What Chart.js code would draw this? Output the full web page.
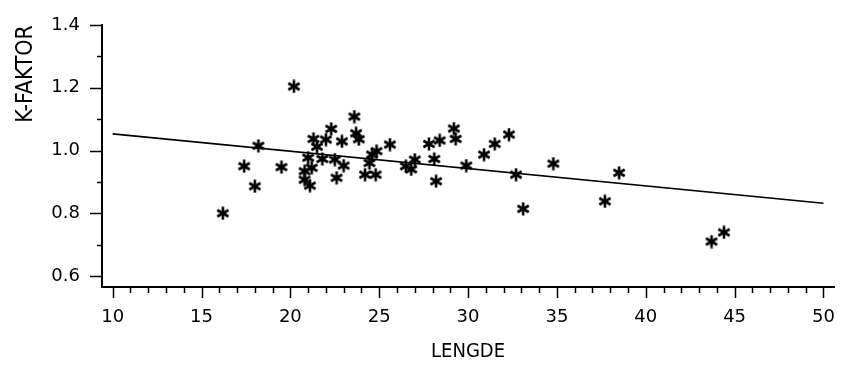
<!DOCTYPE html>
<html>
<head>
<meta charset="utf-8">
<script src="https://cdn.jsdelivr.net/npm/chart.js@4"></script>
<style>
  html, body { margin: 0; padding: 0; background: #fff; }
</style>
</head>
<body>
<canvas id="myChart" width="844" height="367"></canvas>
<script>
// measured points
const lengde = [16.2, 17.4, 18.0, 18.2, 19.5, 20.2, 20.8, 20.8, 21.0, 21.1,
  21.2, 21.3, 21.5, 21.8, 22.0, 22.3, 22.5, 22.6, 22.9, 23.0,
  23.6, 23.7, 23.85, 24.2, 24.45, 24.6, 24.8, 24.85, 25.6, 26.5,
  26.8, 27.0, 27.8, 28.1, 28.2, 28.4, 29.2, 29.3, 29.9, 30.9,
  31.5, 32.3, 32.7, 33.1, 34.8, 37.7, 38.5, 43.7, 44.4];
const kFaktor = [0.80, 0.95, 0.886, 1.015, 0.947, 1.204, 0.934, 0.907, 0.977, 0.888,
  0.945, 1.037, 1.012, 0.973, 1.035, 1.069, 0.971, 0.913, 1.029, 0.952,
  1.108, 1.055, 1.036, 0.923, 0.96, 0.987, 0.923, 0.998, 1.019, 0.95,
  0.94, 0.971, 1.021, 0.973, 0.902, 1.032, 1.07, 1.037, 0.952, 0.987,
  1.021, 1.051, 0.923, 0.814, 0.958, 0.838, 0.929, 0.71, 0.739];

// fitted line
const lineX = [10, 50];
const lineY = [1.053, 0.832];

const xTickLabels = [10, 15, 20, 25, 30, 35, 40, 45, 50];
const yTickLabels = [0.6, 0.8, 1.0, 1.2, 1.4];
const xMinor = [];
for (let v = 10; v <= 50; v++) xMinor.push(v);
const yMinor = [0.6, 0.7, 0.8, 0.9, 1.0, 1.1, 1.2, 1.3, 1.4];

function makeAsterisk(size, lw) {
  const c = document.createElement('canvas');
  c.width = size; c.height = size;
  const g = c.getContext('2d');
  g.strokeStyle = '#000';
  g.lineWidth = lw;
  const r = size / 2 - 0.5;
  g.translate(size / 2, size / 2);
  [90, 30, 150].forEach(a => {
    const t = a * Math.PI / 180;
    g.beginPath();
    g.moveTo(-r * Math.cos(t), -r * Math.sin(t));
    g.lineTo(r * Math.cos(t), r * Math.sin(t));
    g.stroke();
  });
  return c;
}

// tick marks: long on labelled values, short in between
const tickMarks = {
  id: 'tickMarks',
  afterDraw(chart) {
    const { ctx, chartArea, scales: { x, y } } = chart;
    ctx.save();
    ctx.strokeStyle = '#000';
    ctx.lineWidth = 1.5;
    xMinor.forEach(v => {
      const px = Math.round(x.getPixelForValue(v)) + 0.5;
      const len = xTickLabels.includes(v) ? 11 : 6;
      ctx.beginPath();
      ctx.moveTo(px, chartArea.bottom);
      ctx.lineTo(px, chartArea.bottom + len);
      ctx.stroke();
    });
    yMinor.forEach(v => {
      const py = Math.round(y.getPixelForValue(v)) + 0.5;
      const len = yTickLabels.some(t => Math.abs(t - v) < 1e-9) ? 12 : 5;
      ctx.beginPath();
      ctx.moveTo(chartArea.left - len, py);
      ctx.lineTo(chartArea.left, py);
      ctx.stroke();
    });
    ctx.restore();
  }
};

const tickFont = { family: "'DejaVu Sans', sans-serif", size: 18 };
const condensed = "'DejaVu Sans Condensed', 'Liberation Sans Narrow', sans-serif";

const config = {
  type: 'scatter',
  data: {
    datasets: [
      {
        data: lengde.map((v, i) => ({ x: v, y: kFaktor[i] })),
        pointStyle: makeAsterisk(14, 2.6),
      },
      {
        type: 'line',
        data: lineX.map((v, i) => ({ x: v, y: lineY[i] })),
        borderColor: '#000',
        borderWidth: 1.6,
        pointRadius: 0,
        fill: false,
      },
    ],
  },
  options: {
    responsive: false,
    animation: false,
    layout: {
      padding: { top: 25, right: 4, left: 0, bottom: 0 },
    },
    scales: {
      x: {
        type: 'linear',
        position: 'bottom',
        min: 9.4,
        max: 50.6,
        afterBuildTicks: (axis) => { axis.ticks = xTickLabels.map(v => ({ value: v })); },
        afterFit: (s) => { s.height = 80; },
        grid: { display: true, drawOnChartArea: false, drawTicks: true, tickLength: 11, color: 'transparent' },
        border: { display: true, color: '#000', width: 2 },
        ticks: { font: tickFont, color: '#000', padding: 9, maxRotation: 0, autoSkip: false },
        title: { display: true, text: 'LENGDE', font: { family: condensed, size: 20 }, color: '#000', padding: { top: 0, bottom: 3 } },
      },
      y: {
        min: 0.565,
        max: 1.4,
        afterBuildTicks: (axis) => { axis.ticks = yTickLabels.map(v => ({ value: v })); },
        afterFit: (s) => { s.width = 102; },
        grid: { display: true, drawOnChartArea: false, drawTicks: true, tickLength: 12, color: 'transparent' },
        border: { display: true, color: '#000', width: 2 },
        ticks: {
          font: tickFont, color: '#000', padding: 10, autoSkip: false,
          callback: (value) => value.toFixed(1),
        },
        title: { display: true, text: 'K-FAKTOR', align: 'end', font: { family: condensed, size: 23 }, color: '#000', padding: { top: 12, bottom: 0 } },
      },
    },
    plugins: {
      legend: { display: false },
      tooltip: { enabled: false },
    },
  },
  plugins: [tickMarks],
};

const ctx = document.getElementById('myChart').getContext('2d');
new Chart(ctx, config);
</script>
</body>
</html>
